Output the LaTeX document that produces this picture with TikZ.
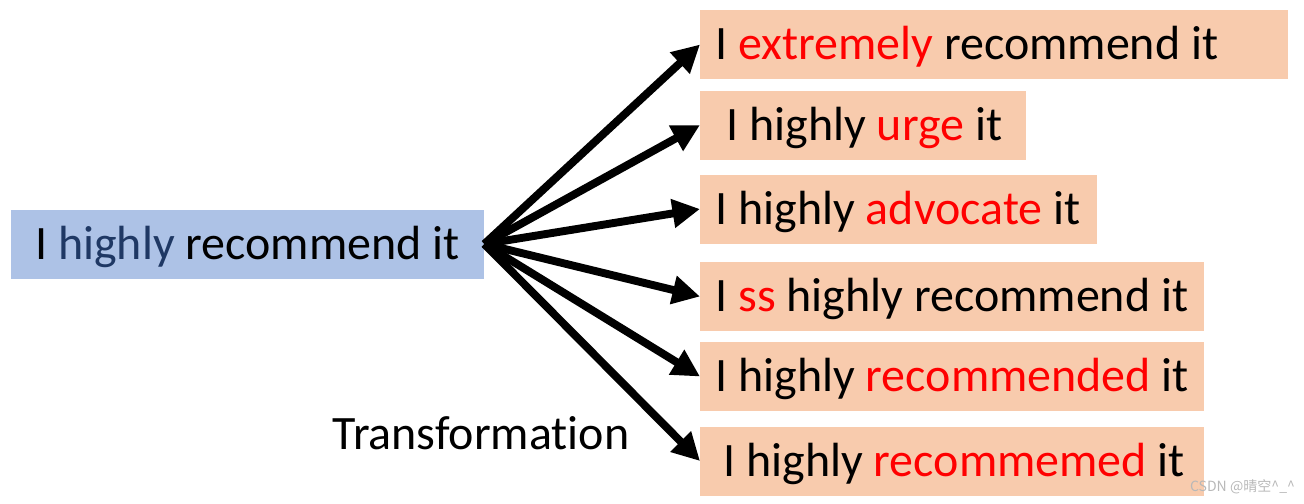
\documentclass[tikz,border=0pt]{standalone}
\usepackage{fontspec}
\setmainfont{Carlito}[Ligatures=NoCommon]
\newfontfamily\cjkfont{Noto Sans CJK SC}
\usetikzlibrary{arrows.meta}
\definecolor{srcblue}{HTML}{ADC2E6}
\definecolor{tgtorange}{HTML}{F8CBAD}
\definecolor{wordnavy}{HTML}{1F3864}
\definecolor{wordred}{HTML}{FF0000}
\definecolor{markgray}{HTML}{B8B8B8}
\tikzset{
  phrase/.style={inner xsep=0.3cm, inner ysep=0pt, minimum height=1.38cm,
    text height=0.75cm, text depth=0.15cm, font=\fontsize{27.3}{32}\selectfont},
  srcbox/.style={phrase, fill=srcblue},
  tgtbox/.style={phrase, fill=tgtorange, anchor=west},
  fanarrow/.style={line width=4.5pt, -{Triangle[length=0.55cm, width=0.55cm]}}
}
\newcommand{\chg}[1]{\textcolor{wordred}{#1}}
\newcommand{\tline}[2]{\makebox[#1][l]{#2}}

\begin{document}
\begin{tikzpicture}
    \useasboundingbox (0,0) rectangle (26.08,-10.06);

    % Frase original
    \node[srcbox, minimum width=9.46cm] (src) at (4.95,-4.88)
        {I \textcolor{wordnavy}{highly} recommend it};

    % Frases transformadas
    \node[tgtbox] (t1) at (14,-0.89) {\tline{11.16cm}{I \chg{extremely} recommend it}};
    \node[tgtbox] (t2) at (14,-2.50) {\tline{5.92cm}{\hspace{0.22cm}I highly \chg{urge} it}};
    \node[tgtbox] (t3) at (14,-4.18) {\tline{7.34cm}{I highly \chg{advocate} it}};
    \node[tgtbox] (t4) at (14,-5.93) {\tline{9.48cm}{I \chg{ss} highly recommend it}};
    \node[tgtbox] (t5) at (14,-7.53) {\tline{9.48cm}{I highly \chg{recommended} it}};
    \node[tgtbox] (t6) at (14,-9.22) {\tline{9.48cm}{\hspace{0.16cm}I highly \chg{recommemed} it}};

    % Flechas en abanico
    \foreach \k in {1,...,6}
        \draw[fanarrow] (src.east) -- (t\k.west);

    % Etiqueta
    \node[font=\fontsize{27.3}{32}\selectfont] (lbl) at (9.62,-8.66) {Transformation};

    % Marca de agua
    \node[text=markgray, font=\cjkfont\fontsize{8}{9}\selectfont] (mark) at (24.85,-9.74)
        {CSDN @晴空\textasciicircum\_\textasciicircum};
\end{tikzpicture}
\end{document}
